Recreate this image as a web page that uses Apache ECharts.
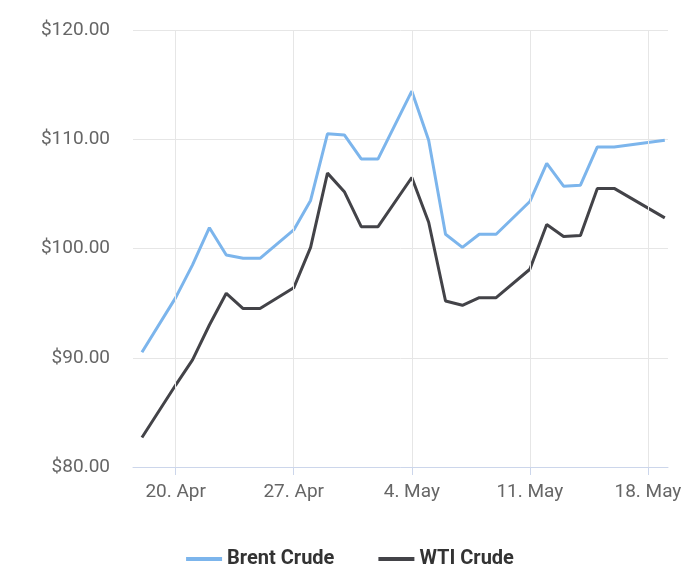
<!DOCTYPE html>
<html><head><meta charset="utf-8">
<script src="https://cdn.jsdelivr.net/npm/echarts@6/dist/echarts.min.js"></script>
<style>html,body{margin:0;padding:0}#c{width:700px;height:588px}</style>
</head><body><div id="c"></div>
<script>
// day offset from 20 Apr
const days = [-2,0,1,2,3,4,5,7,8,9,10,11,12,14,15,16,17,18,19,21,22,23,24,25,26,29];
const brent = [90.5,95.5,98.5,101.9,99.4,99.1,99.1,101.7,104.4,110.5,110.4,108.2,108.2,114.4,109.9,101.3,100.1,101.3,101.3,104.3,107.8,105.7,105.8,109.3,109.3,109.9];
const wti = [82.7,87.5,89.8,93.0,95.9,94.5,94.5,96.4,100.1,106.9,105.2,102.0,102.0,106.5,102.4,95.2,94.8,95.5,95.5,98.1,102.2,101.1,101.2,105.5,105.5,102.8];
const tickDays = [0,7,14,21,28];
const tickLabels = ['20. Apr','27. Apr','4. May','11. May','18. May'];
const f = 'Roboto, sans-serif';
const chart = echarts.init(document.getElementById('c'));
const mk = (name, vals, color, withLines) => ({
  name, type:'line', data: days.map((d,i)=>[d,vals[i]]), symbol:'none',
  lineStyle:{width:3,color}, itemStyle:{color},
  markLine: withLines ? {silent:true, symbol:'none', label:{show:false},
    lineStyle:{color:'#e6e6e6', type:'solid', width:1},
    data: tickDays.map(d=>({xAxis:d}))} : undefined,
  z: withLines ? 3 : 4
});
chart.setOption({
  animation:false,
  grid:{left:133,right:32,top:30,bottom:121},
  xAxis:{type:'value',min:-2.53,max:29.19,
    axisLine:{lineStyle:{color:'#ccd6eb'}},
    axisTick:{show:true,length:8,lineStyle:{color:'#ccd6eb'},customValues:tickDays},
    axisLabel:{customValues:tickDays,color:'#666',fontSize:19,fontFamily:f,margin:16,
      formatter:v=>tickLabels[tickDays.indexOf(v)]},
    splitLine:{show:false}},
  yAxis:{type:'value',min:80,max:120,interval:10,
    axisLine:{show:false},axisTick:{show:false},
    axisLabel:{color:'#666',fontSize:19,fontFamily:f,margin:23,formatter:v=>'$'+v.toFixed(2)},
    splitLine:{lineStyle:{color:'#e6e6e6'}}},
  legend:{bottom:14,left:'center',itemGap:44,itemWidth:36,itemHeight:4,icon:'rect',
    textStyle:{fontSize:20,fontWeight:'bold',color:'#333',fontFamily:f},
    data:['Brent Crude','WTI Crude']},
  series:[mk('Brent Crude',brent,'#7cb5ec',true), mk('WTI Crude',wti,'#434348',false)]
});
</script></body></html>
